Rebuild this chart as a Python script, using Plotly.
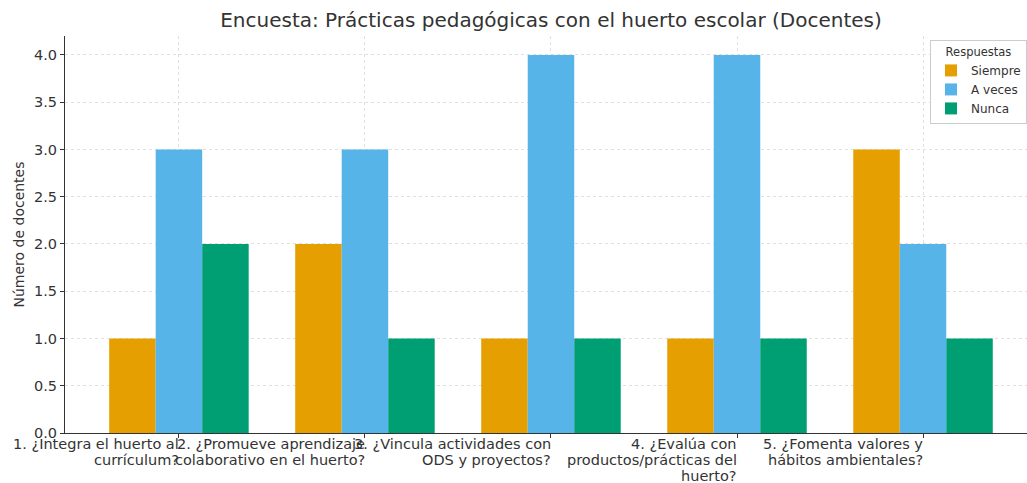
import plotly.graph_objects as go

categories = [
    "1. ¿Integra el huerto al currículum?",
    "2. ¿Promueve aprendizaje colaborativo en el huerto?",
    "3. ¿Vincula actividades con ODS y proyectos?",
    "4. ¿Evalúa con productos/prácticas del huerto?",
    "5. ¿Fomenta valores y hábitos ambientales?",
]
tick_labels = [
    "1. ¿Integra el huerto al<br>currículum?",
    "2. ¿Promueve aprendizaje<br>colaborativo en el huerto?",
    "3. ¿Vincula actividades con<br>ODS y proyectos?",
    "4. ¿Evalúa con<br>productos/prácticas del<br>huerto?",
    "5. ¿Fomenta valores y<br>hábitos ambientales?",
]
siempre = [1, 2, 1, 1, 3]
a_veces = [3, 3, 4, 4, 2]
nunca = [2, 1, 1, 1, 1]

series = [("Siempre", siempre, "#E69F00"),
          ("A veces", a_veces, "#56B4E9"),
          ("Nunca", nunca, "#009E73")]

FONT = "DejaVu Sans"
TXT = "#333333"
fig = go.Figure()
for name, vals, col in series:
    fig.add_trace(go.Bar(x=categories, y=vals, name=name, marker_color=col,
                         marker_line_width=0))

for cat, lab in zip(categories, tick_labels):
    for i, line in enumerate(lab.split("<br>")):
        fig.add_annotation(x=cat, xref="x", y=0, yref="paper", yanchor="middle",
                           xanchor="right", align="right", text=line, showarrow=False,
                           yshift=-11 - 16 * i, xshift=1, borderpad=0,
                           font=dict(family=FONT, size=14.5, color=TXT))

fig.update_layout(
    width=1027, height=483,
    margin=dict(l=65, r=0, t=36, b=50),
    paper_bgcolor="white", plot_bgcolor="white",
    barmode="group", bargap=0.25, bargroupgap=0,
    font=dict(family=FONT, color=TXT),
    title=dict(text="Encuesta: Prácticas pedagógicas con el huerto escolar (Docentes)",
               x=551/1027, xanchor="center", xref="container", y=0.958, yanchor="middle",
               font=dict(family=FONT, size=20, color=TXT)),
    legend=dict(title=dict(text="Respuestas", font=dict(size=11.5), side="top center"),
                font=dict(size=12, family=FONT, color=TXT),
                x=1.0, xanchor="right", y=0.99, yanchor="top",
                bgcolor="white", bordercolor="#cccccc", borderwidth=1,
                tracegroupgap=0),
    showlegend=True,
)
fig.update_xaxes(range=[-0.6125, 4.559], showticklabels=False, ticks="outside",
                 ticklen=4, tickcolor=TXT, showline=True, linecolor=TXT,
                 linewidth=1.2, showgrid=True, gridcolor="#e0e0e0", griddash="dot",
                 gridwidth=1)
fig.update_yaxes(range=[0, 4.2], tickvals=[0, 0.5, 1, 1.5, 2, 2.5, 3, 3.5, 4],
                 tickformat=".1f", ticks="outside", ticklen=4, tickcolor=TXT,
                 showline=True, linecolor=TXT, linewidth=1.2,
                 showgrid=True, gridcolor="#e0e0e0", griddash="dot", gridwidth=1,
                 zeroline=False, tickfont=dict(size=14.5, family=FONT, color=TXT),
                 title=dict(text="Número de docentes", standoff=6,
                            font=dict(size=14, family=FONT, color=TXT)))

fig.write_html("out.html")
